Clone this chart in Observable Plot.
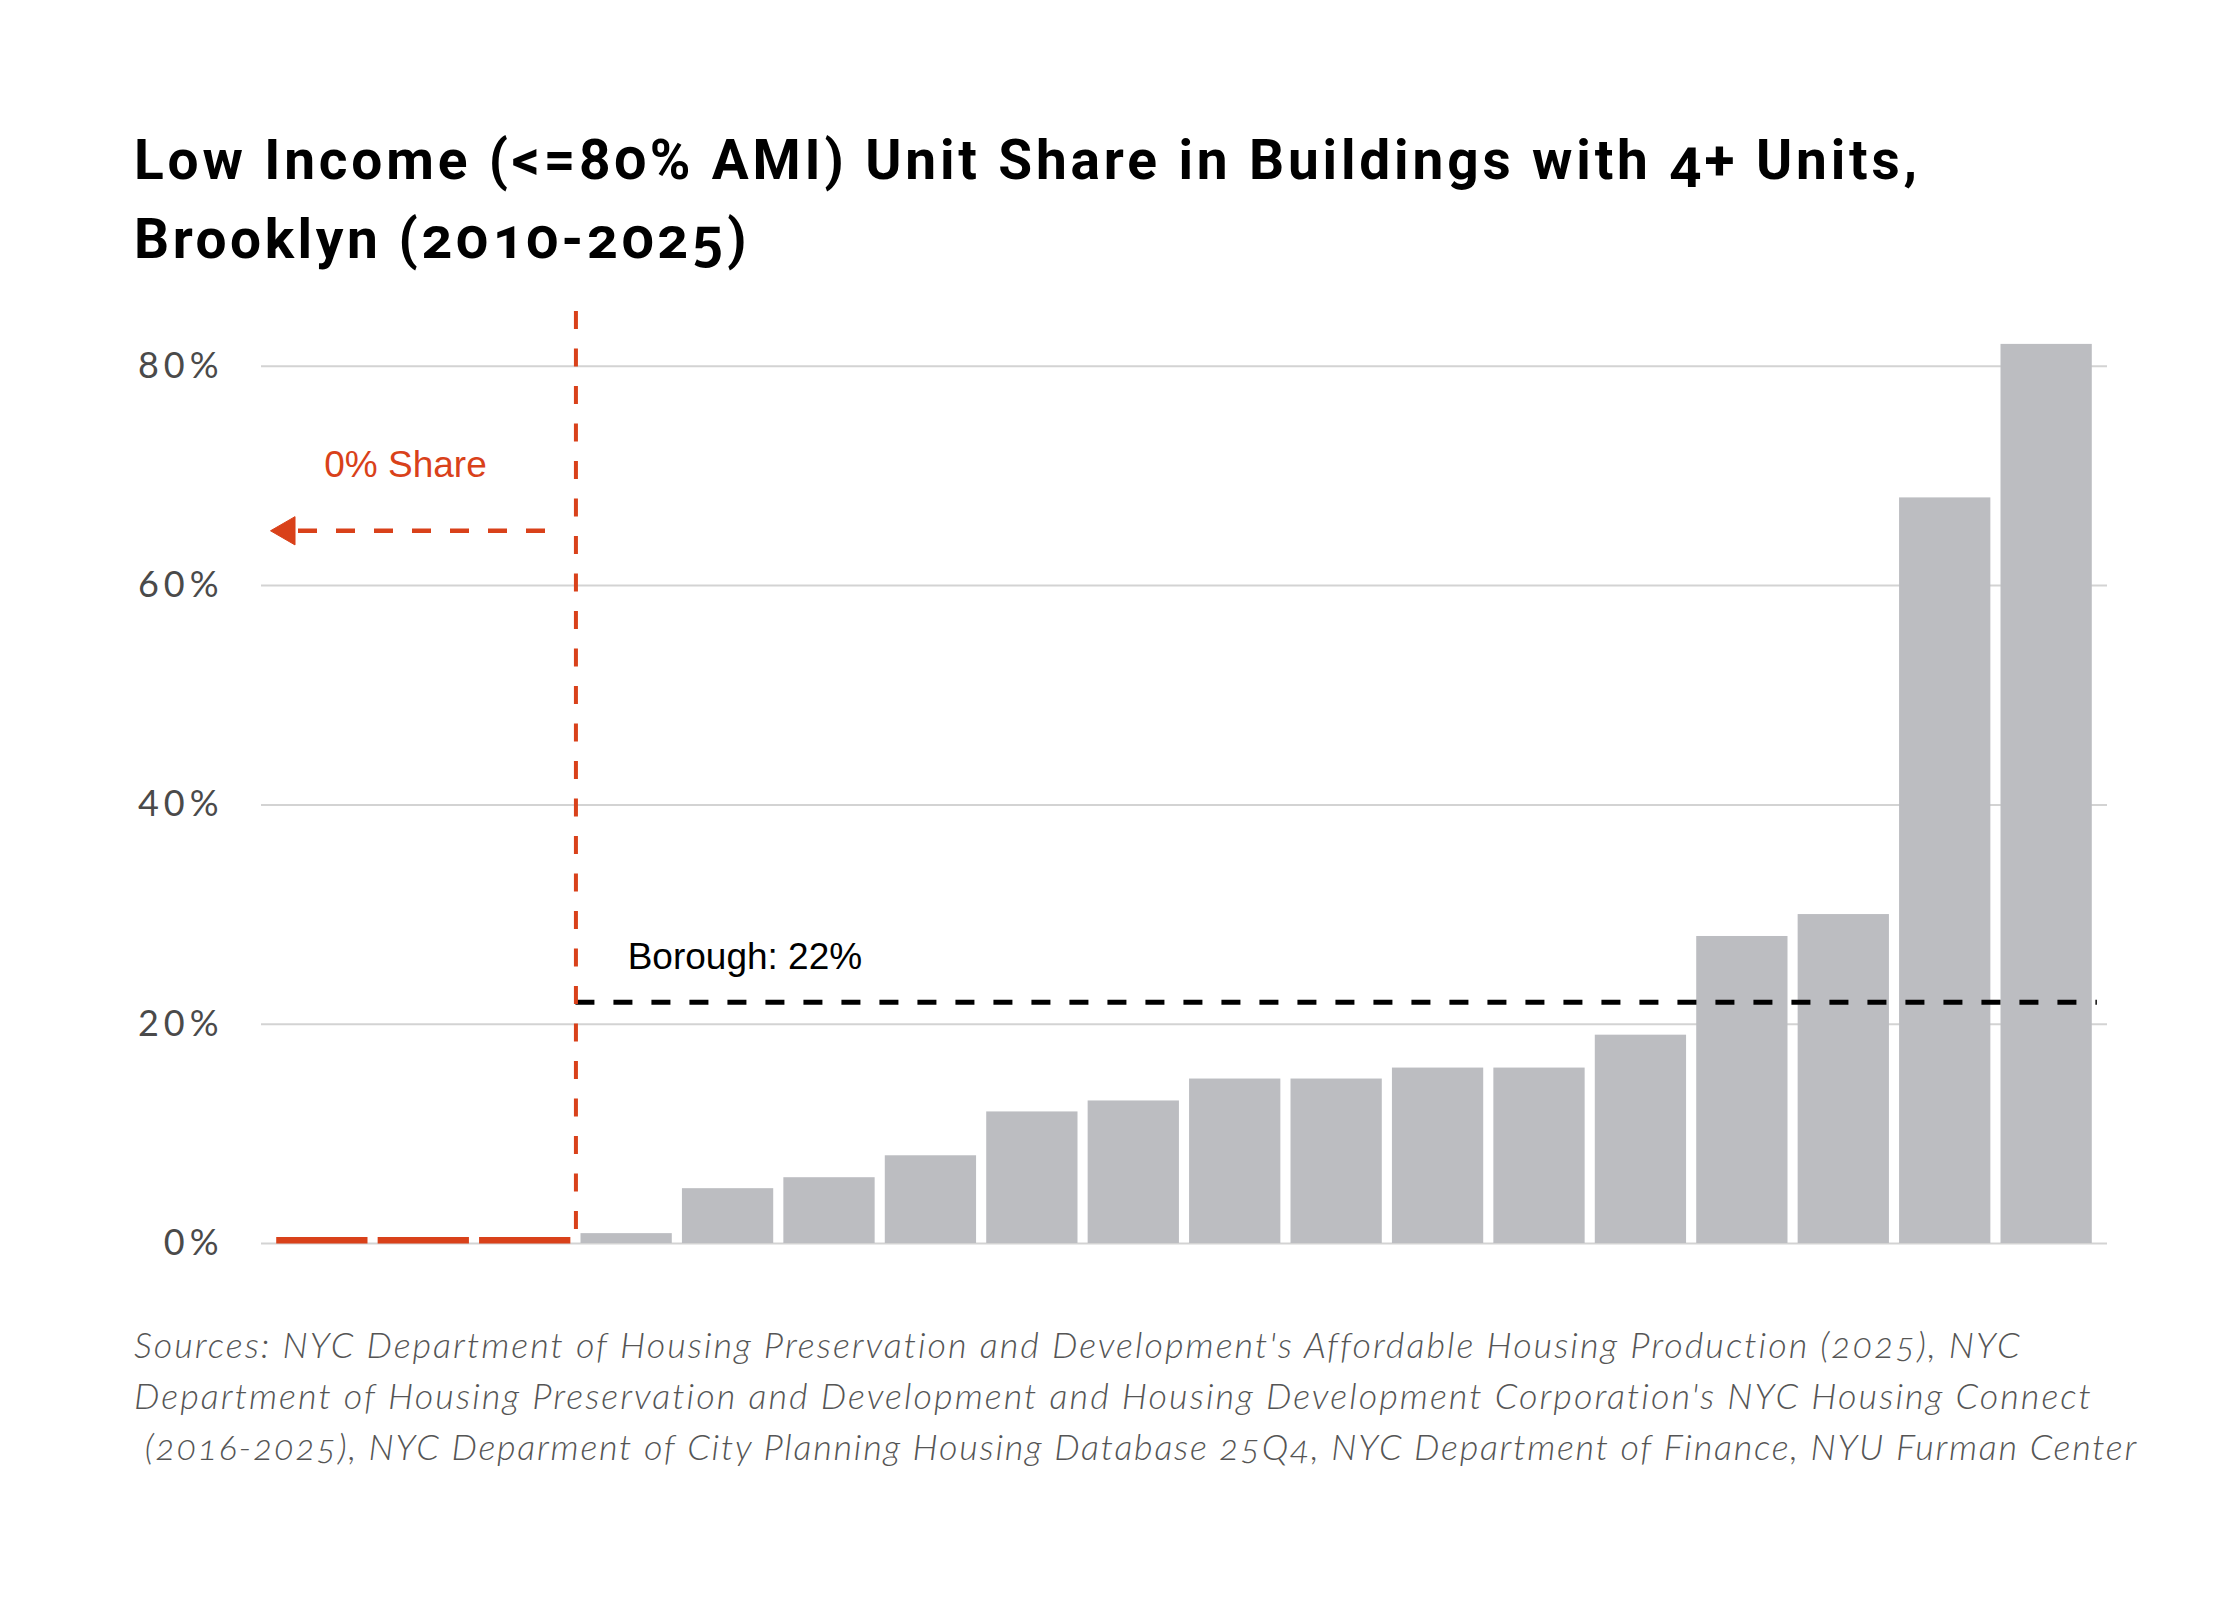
<!DOCTYPE html>
<html>
<head>
<meta charset="utf-8">
<script src="https://cdn.jsdelivr.net/npm/d3@7"></script>
<script src="https://cdn.jsdelivr.net/npm/@observablehq/plot@0.6"></script>
<style>
  html, body { margin: 0; padding: 0; background: #fff; }
  #page { width: 2240px; position: relative; }
  #title { box-sizing: border-box; height: 282px; padding: 121px 0 0 134px;
    font-family: "Liberation Sans Narrow", "Roboto", sans-serif; font-weight: 700;
    font-size: 55px; line-height: 79px; color: #000; font-variant-numeric: oldstyle-nums; }
  #caption { box-sizing: border-box; padding: 36px 0 0 134px;
    font-family: "Lato", sans-serif; font-style: italic; font-weight: 300;
    font-size: 36px; line-height: 51px; color: #555; font-variant-numeric: oldstyle-nums; }
  .ln { display: inline-block; white-space: pre; }
  #chart svg { display: block; }
</style>
</head>
<body>
<div id="page">
  <div id="title"></div>
  <div id="chart"></div>
  <div id="caption"></div>
</div>
<script>
// ---- data ----
const titleLines = [
  "Low Income (<=80% AMI) Unit Share in Buildings with 4+ Units,",
  "Brooklyn (2010-2025)"
];
const captionLines = [
  "Sources: NYC Department of Housing Preservation and Development's Affordable Housing Production (2025), NYC",
  "Department of Housing Preservation and Development and Housing Development Corporation's NYC Housing Connect",
  " (2016-2025), NYC Deparment of City Planning Housing Database 25Q4, NYC Department of Finance, NYU Furman Center"
];
// low income unit share (%) per area, sorted ascending; first three have 0% share
const shares = [0, 0, 0, 0.9, 5, 6, 8, 12, 13, 15, 15, 16, 16, 19, 28, 30, 68, 82];
const zeroShareCount = 3;
const boroughShare = 22;
const yTicks = [0, 20, 40, 60, 80];
const zeroLabel = "0% Share";
const boroughLabel = "Borough: 22%";

// ---- styles ----
const RED = "#d9411a";
const GRAY = "#bcbdc1";
const GRID = "#d3d3d3";

const data = shares.map((v, i) => ({i, v, zero: i < zeroShareCount}));

// title & caption
const titleEl = document.getElementById("title");
titleLines.forEach(t => { const d = document.createElement("div"); const s = document.createElement("span"); s.className = "ln"; s.textContent = t; d.appendChild(s); titleEl.appendChild(d); });
const capEl = document.getElementById("caption");
captionLines.forEach(t => { const d = document.createElement("div"); const s = document.createElement("span"); s.className = "ln"; s.textContent = t; d.appendChild(s); capEl.appendChild(d); });

const n = shares.length;
const chart = Plot.plot({
  width: 2240,
  height: 1001,
  marginLeft: 261,
  marginRight: 133,
  marginTop: 29,
  marginBottom: 40,
  style: {fontFamily: "Lato, sans-serif", fontVariantNumeric: "oldstyle-nums", background: "#fff"},
  x: {type: "linear", domain: [-0.1, n + 0.1], axis: null},
  y: {domain: [0, 85], axis: null},
  marks: [
    Plot.gridY(yTicks, {stroke: GRID, strokeOpacity: 1, strokeWidth: 2}),
    Plot.rectY(data.filter(d => !d.zero), {x1: d => d.i + 0.05, x2: d => d.i + 0.95, y1: 0, y2: "v", fill: GRAY}),
    Plot.ruleY(data.filter(d => d.zero), {x1: d => d.i + 0.05, x2: d => d.i + 0.95, y: "v", stroke: RED, strokeWidth: 6.4, dy: -3.2}),
    Plot.ruleY([boroughShare], {x1: zeroShareCount, x2: n, stroke: "#000", strokeWidth: 5, strokeDasharray: "19,19"}),
    Plot.ruleX([zeroShareCount], {y1: 85, y2: 0, stroke: RED, strokeWidth: 4, strokeDasharray: "18,19.5"}),
    Plot.ruleY([65], {x1: 2.70, x2: 0.26, stroke: RED, strokeWidth: 4.5, strokeDasharray: "19,19"}),
    Plot.dot([65], {x: 0.15, y: d => d, symbol: "triangle", rotate: -90, r: 10.5, fill: RED, stroke: RED, strokeWidth: 1}),
    Plot.text([zeroLabel], {x: 1.32, y: 69.9, text: d => d, fill: RED, fontSize: 37, fontFamily: "Liberation Sans, Arial, sans-serif", textAnchor: "middle", lineAnchor: "bottom"}),
    Plot.text([boroughLabel], {x: 3.51, y: 25, text: d => d, fill: "#000", fontSize: 37, fontFamily: "Liberation Sans, Arial, sans-serif", textAnchor: "start", lineAnchor: "bottom"}),
    Plot.axisY(yTicks, {tickSize: 0, tickPadding: 38, tickFormat: d => d + "%", fontSize: 36, color: "#4a4a4a", label: null})
  ]
});
document.getElementById("chart").appendChild(chart);
d3.select(chart).selectAll('g[aria-label="y-axis tick label"] text').style("letter-spacing", "5px");

// fit text line widths to the reference
function fitLines(el, targets) {
  const spans = el.querySelectorAll(".ln");
  spans.forEach((s, k) => {
    s.style.letterSpacing = "0px";
    const w = s.getBoundingClientRect().width;
    const len = s.textContent.length;
    s.style.letterSpacing = ((targets[k] - w) / len) + "px";
  });
}
function doFit() {
  fitLines(titleEl, [1787, 616]);
  fitLines(capEl, [1886, 1958, 2004]);
}
doFit();
if (document.fonts && document.fonts.ready) document.fonts.ready.then(doFit);
</script>
</body>
</html>
